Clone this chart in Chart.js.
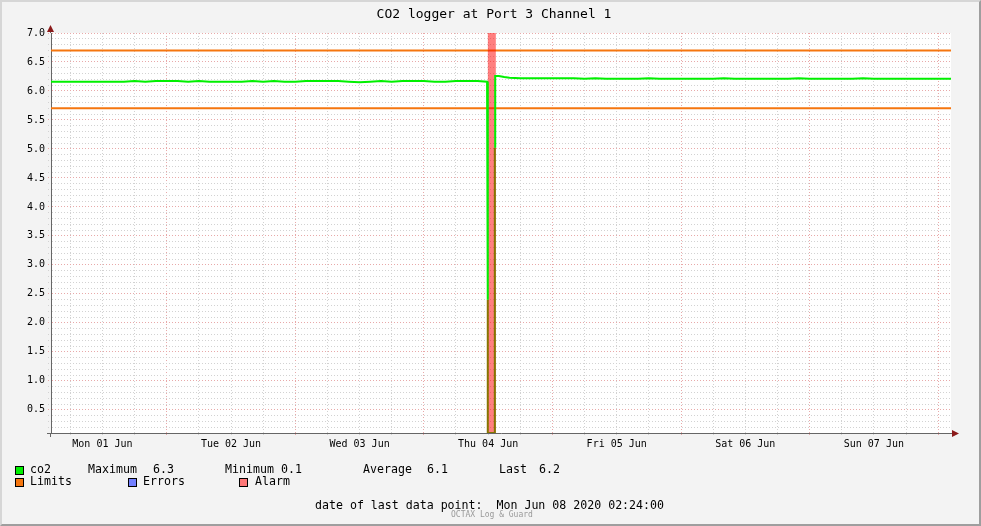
<!DOCTYPE html>
<html>
<head>
<meta charset="utf-8">
<script src="https://cdn.jsdelivr.net/npm/chart.js@4.4.1/dist/chart.umd.min.js"></script>
<style>
  html, body { margin: 0; padding: 0; background: #f3f3f3; }
  #wrap { position: relative; width: 981px; height: 526px; background: #f3f3f3; overflow: hidden;
          font-family: 'DejaVu Sans Mono', monospace; color: #000; }
  #frame { position: absolute; left: 0; top: 0; width: 981px; height: 526px; box-sizing: border-box;
           border-top: 2px solid #d6d6d6; border-left: 2px solid #d6d6d6;
           border-right: 2px solid #9e9e9e; border-bottom: 2px solid #9e9e9e; pointer-events: none; }
  canvas { position: absolute; left: 0; top: 0; }
  .t { position: absolute; white-space: pre; line-height: 1; }
  .lg { font-size: 11.6px; }
  .box { position: absolute; width: 7px; height: 7px; border: 1px solid #000; }
</style>
</head>
<body>
<div id="wrap">
  <canvas id="c" width="981" height="526"></canvas>
  <div class="t" id="title" style="left:294px; top:7px; width:400px; text-align:center; font-size:13px;">CO2 logger at Port 3 Channel 1</div>

  <div class="box" style="left:15px; top:466px; background:#00f000;"></div>
  <div class="t lg" style="left:30px; top:464px;">co2</div>
  <div class="t lg" style="left:88px; top:464px;">Maximum</div>
  <div class="t lg" style="left:153px; top:464px;">6.3</div>
  <div class="t lg" style="left:225px; top:464px;">Minimum</div>
  <div class="t lg" style="left:281px; top:464px;">0.1</div>
  <div class="t lg" style="left:363px; top:464px;">Average</div>
  <div class="t lg" style="left:427px; top:464px;">6.1</div>
  <div class="t lg" style="left:499px; top:464px;">Last</div>
  <div class="t lg" style="left:539px; top:464px;">6.2</div>

  <div class="box" style="left:15px; top:478px; background:#f5760f;"></div>
  <div class="t lg" style="left:30px; top:476px;">Limits</div>
  <div class="box" style="left:128px; top:478px; background:#7380ff;"></div>
  <div class="t lg" style="left:143px; top:476px;">Errors</div>
  <div class="box" style="left:239px; top:478px; background:#ff7878;"></div>
  <div class="t lg" style="left:255px; top:476px;">Alarm</div>

  <div class="t lg" style="left:315px; top:500px;">date of last data point:  Mon Jun 08 2020 02:24:00</div>
  <div class="t" style="left:451px; top:510.5px; font-size:8px; color:#9a9a9a;">OCTAX Log &amp; Guard</div>
  <div id="frame"></div>
</div>
<script>
// ---- data (x = hours since Mon 01 Jun 2020 00:00) ----
const dayLabels = ['Mon 01 Jun', 'Tue 02 Jun', 'Wed 03 Jun', 'Thu 04 Jun', 'Fri 05 Jun', 'Sat 06 Jun', 'Sun 07 Jun'];
const yLabels = ['0.5','1.0','1.5','2.0','2.5','3.0','3.5','4.0','4.5','5.0','5.5','6.0','6.5','7.0'];

const co2Times = [
  2.4, 4, 6, 8, 10, 12, 14, 16, 18, 20, 22, 24, 26, 28, 30, 32, 34, 36, 38, 40,
  42, 44, 46, 48, 50, 52, 54, 56, 58, 60, 62, 64, 66, 68, 70, 72, 74, 76, 78, 80,
  82, 83.8, 83.93, 83.93, 84.6, 85.32, 85.32, 86, 87, 88, 90, 92, 94, 96, 98, 100,
  102, 104, 106, 108, 110, 112, 114, 116, 118, 120, 122, 124, 126, 128, 130, 132, 134, 136, 138, 140,
  142, 144, 146, 148, 150, 152, 154, 156, 158, 160, 162, 164, 166, 168, 170.4
];
const co2Values = [
  6.16, 6.16, 6.16, 6.16, 6.16, 6.16, 6.16, 6.16, 6.17, 6.16, 6.17, 6.17, 6.17, 6.16, 6.17, 6.16, 6.16, 6.16, 6.16, 6.17,
  6.16, 6.17, 6.16, 6.16, 6.17, 6.17, 6.17, 6.17, 6.16, 6.15, 6.16, 6.17, 6.16, 6.17, 6.17, 6.17, 6.16, 6.16, 6.17, 6.17,
  6.17, 6.16, 6.16, 2.4, null, 5.02, 6.26, 6.26, 6.24, 6.23, 6.22, 6.22, 6.22, 6.22, 6.22, 6.22,
  6.21, 6.22, 6.21, 6.21, 6.21, 6.21, 6.22, 6.21, 6.21, 6.21, 6.21, 6.21, 6.21, 6.22, 6.21, 6.21, 6.21, 6.21, 6.21, 6.21,
  6.22, 6.21, 6.21, 6.21, 6.21, 6.21, 6.22, 6.21, 6.21, 6.21, 6.21, 6.21, 6.21, 6.21, 6.21
];

// sensor drop-out segment (drawn darker under the alarm)
const dropTimes = [83.93, 83.93, 85.25, 85.25];
const dropValues = [2.4, 0.1, 0.1, 5.02];

// alarm period
const alarmTimes = [83.9, 85.45];
const alarmValues = [7.0, 7.0];

// limits
const limitTimes = [2.4, 170.4];
const limitHigh = [6.7, 6.7];
const limitLow = [5.7, 5.7];

const xMin = 2.4, xMax = 170.4;
const yMin = 0.1, yMax = 7.0;

// ---- helpers ----
const pts = (xs, ys) => xs.map((x, i) => ({ x: x, y: ys[i] }));
const MAJOR = '#e8a9a9';
const MINOR = '#d2d2d2';
const FONT = 'DejaVu Sans Mono';

const xTicks = [];
for (let h = 6; h <= 168; h += 6) xTicks.push(h);
const yTicks = [];
for (let k = 1; k <= 70; k++) yTicks.push(k / 10);
const isHalf = v => Math.abs(v * 2 - Math.round(v * 2)) < 1e-6;

const bgPlugin = {
  id: 'bg',
  beforeDraw(chart) {
    const a = chart.chartArea, ctx = chart.ctx;
    ctx.save(); ctx.fillStyle = '#ffffff';
    ctx.fillRect(a.left, a.top, a.right - a.left, a.bottom - a.top);
    ctx.restore();
  }
};
const arrowPlugin = {
  id: 'arrows',
  afterDraw(chart) {
    const a = chart.chartArea, ctx = chart.ctx;
    const L = Math.round(a.left) - 0.5, B = Math.round(a.bottom) + 0.5;
    ctx.save();
    ctx.strokeStyle = '#666'; ctx.lineWidth = 1;
    ctx.beginPath(); ctx.moveTo(L, a.top); ctx.lineTo(L, 28); ctx.stroke();
    ctx.beginPath(); ctx.moveTo(L, a.bottom); ctx.lineTo(L, a.bottom + 4); ctx.stroke();
    ctx.beginPath(); ctx.moveTo(a.right, B); ctx.lineTo(953, B); ctx.stroke();
    ctx.beginPath(); ctx.moveTo(a.left - 4, B); ctx.lineTo(a.left, B); ctx.stroke();
    ctx.fillStyle = '#8b1a1a';
    ctx.beginPath(); ctx.moveTo(L, 25); ctx.lineTo(L - 3.5, 32); ctx.lineTo(L + 3.5, 32); ctx.closePath(); ctx.fill();
    ctx.beginPath(); ctx.moveTo(959, B); ctx.lineTo(952, B - 3.5); ctx.lineTo(952, B + 3.5); ctx.closePath(); ctx.fill();
    ctx.restore();
  }
};

new Chart(document.getElementById('c'), {
  type: 'line',
  data: {
    datasets: [
      { label: 'co2', data: pts(co2Times, co2Values), borderColor: '#00f000', borderWidth: 2,
        spanGaps: false, fill: false, order: 0 },
      { label: 'drop', data: pts(dropTimes, dropValues), borderColor: '#857500', borderWidth: 2,
        fill: false, order: 1 },
      { label: 'Alarm', data: pts(alarmTimes, alarmValues), borderWidth: 0, borderColor: 'rgba(0,0,0,0)',
        backgroundColor: 'rgba(255,0,0,0.5)', fill: 'start', order: 2 },
      { label: 'Limits high', data: pts(limitTimes, limitHigh), borderColor: '#f5760f', borderWidth: 2,
        fill: false, order: 3 },
      { label: 'Limits low', data: pts(limitTimes, limitLow), borderColor: '#f5760f', borderWidth: 2,
        fill: false, order: 3 }
    ]
  },
  options: {
    responsive: false,
    animation: false,
    layout: { padding: { top: 33, right: 30, bottom: 63, left: 0 } },
    plugins: { legend: { display: false }, tooltip: { enabled: false }, title: { display: false } },
    elements: { point: { radius: 0 }, line: { tension: 0 } },
    scales: {
      x: {
        type: 'linear', min: xMin, max: xMax,
        afterBuildTicks: s => { s.ticks = xTicks.map(v => ({ value: v })); },
        afterFit: s => { s.height = 30; },
        ticks: {
          autoSkip: false, maxRotation: 0, minRotation: 0, padding: 2, color: '#000',
          font: { family: FONT, size: 10 },
          callback: v => (v % 24 === 12 ? dayLabels[(v - 12) / 24] : '')
        },
        grid: {
          color: ctx => (ctx.tick && ctx.tick.value % 24 === 0 ? MAJOR : MINOR),
          lineWidth: 1, drawTicks: true, tickLength: 3, tickBorderDash: [1, 2]
        },
        border: { display: true, color: '#666', width: 1, dash: [1, 2] }
      },
      y: {
        type: 'linear', min: yMin, max: yMax,
        afterBuildTicks: s => { s.ticks = yTicks.map(v => ({ value: v })); },
        afterFit: s => { s.width = 51; },
        ticks: {
          autoSkip: false, padding: 3, color: '#000',
          font: { family: FONT, size: 10 },
          callback: v => (isHalf(v) ? yLabels[Math.round(v * 2) - 1] : '')
        },
        grid: {
          color: ctx => (ctx.tick && isHalf(ctx.tick.value) ? MAJOR : MINOR),
          lineWidth: 1, drawTicks: true, tickLength: 3, tickBorderDash: [1, 2]
        },
        border: { display: true, color: '#666', width: 1, dash: [1, 2] }
      }
    }
  },
  plugins: [bgPlugin, arrowPlugin]
});
</script>
</body>
</html>
